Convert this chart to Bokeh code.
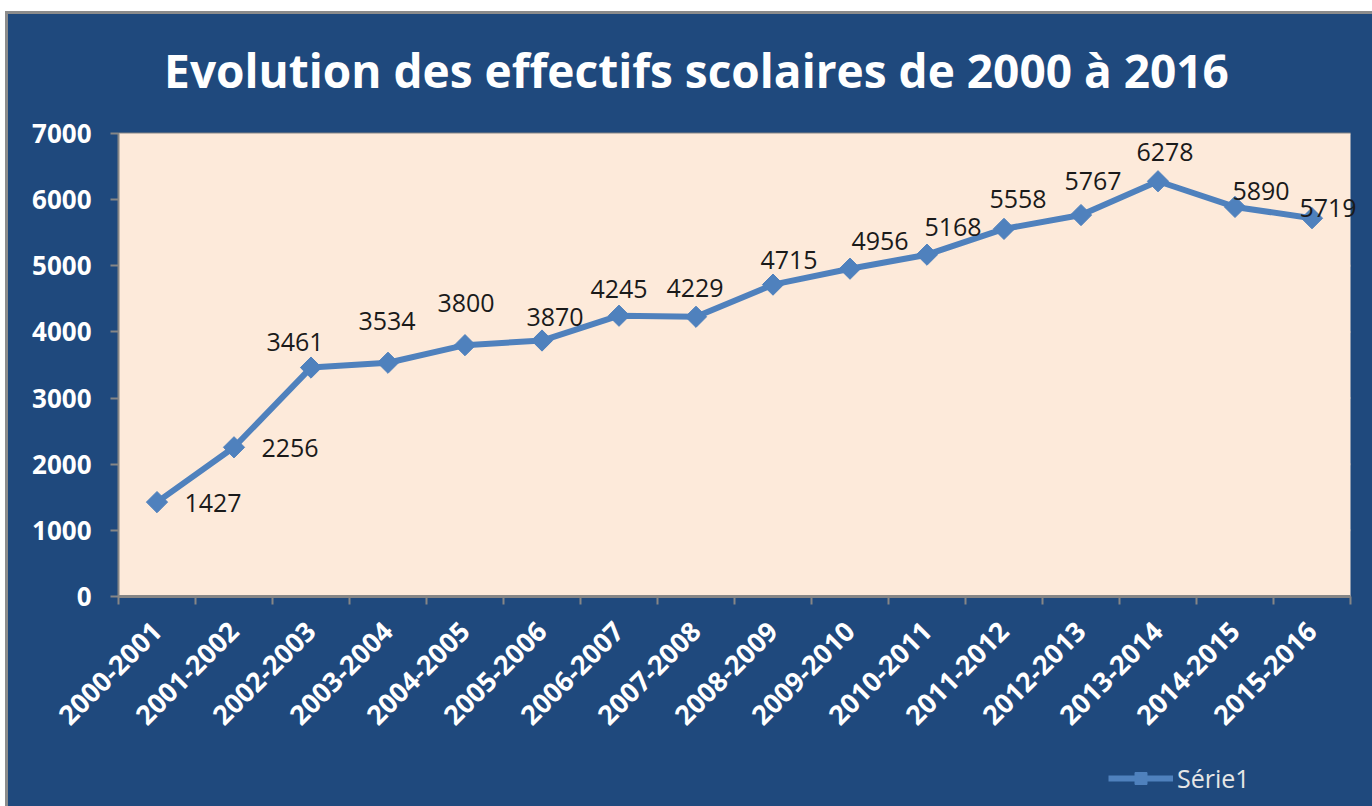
import math
import numpy as np
from bokeh.plotting import figure
from bokeh.models import (ColumnDataSource, FixedTicker, Legend, LegendItem,
                          BoxAnnotation, Label)
from bokeh.core.properties import value
from bokeh.embed import file_html
from bokeh.resources import INLINE

# ---- data ----
categories = ["2000-2001", "2001-2002", "2002-2003", "2003-2004", "2004-2005",
              "2005-2006", "2006-2007", "2007-2008", "2008-2009", "2009-2010",
              "2010-2011", "2011-2012", "2012-2013", "2013-2014", "2014-2015",
              "2015-2016"]
effectifs = [1427, 2256, 3461, 3534, 3800, 3870, 4245, 4229, 4715, 4956,
             5168, 5558, 5767, 6278, 5890, 5719]
y_ticks = [0, 1000, 2000, 3000, 4000, 5000, 6000, 7000]
series_name = "Série1"
title_text = "Evolution des effectifs scolaires de 2000 à 2016"

# ---- label placement (styling, screen pixels) ----
label_dx = [56, 56, -16, -1, 1, 13, 0, -1, 16, 30, 26, 14, 12, 7, 26, 16]
label_dy = [1, 1, -26, -42, -42, -24, -27, -29, -25, -28, -28, -30, -34, -29, -16, -10]

BLUE_BG = "#1F497D"
PLOT_BG = "#FDEADA"
LINE = "#4F81BD"
GRID = "#868686"
FONT = "Open Sans"

# ---- layout (pixels, figure coordinates from top-left) ----
W, H = 1364, 792
PLOT_L, PLOT_T = 110, 119            # beige plot area corner
PLOT_W, PLOT_H = 1232, 463           # beige plot area size
TITLE_CX, TITLE_BASE = 688, 55       # title centre / baseline
n = len(categories)
y_max = y_ticks[-1]
px_x = PLOT_W / n
px_y = PLOT_H / y_max
x_start = -PLOT_L / px_x
x_end = x_start + W / px_x
y_end = y_max + PLOT_T / px_y
y_start = y_end - H / px_y


def to_x(px):
    return x_start + px / px_x


def to_y(py):
    return y_end - py / px_y


xs = [i + 0.5 for i in range(n)]
src = ColumnDataSource(dict(x=xs, y=effectifs,
                            txt=[str(v) for v in effectifs],
                            dx=label_dx, dy=label_dy))
grid_src = ColumnDataSource(dict(y=y_ticks, x0=[0] * len(y_ticks),
                                 x1=[n] * len(y_ticks)))

p = figure(width=W, height=H, x_range=(x_start, x_end), y_range=(y_start, y_end),
           output_backend="svg", toolbar_location=None, title=None,
           min_border_left=0, min_border_right=0,
           min_border_top=0, min_border_bottom=0,
           styles={"margin-left": "8px", "margin-top": "14px",
                   "outline": "3px solid #8C8C8C",
                   "background-color": BLUE_BG})
p.border_fill_color = BLUE_BG
p.background_fill_color = BLUE_BG
p.outline_line_color = None

# beige plotting area
p.add_layout(BoxAnnotation(left=0, right=n, bottom=0, top=y_max,
                           fill_color=PLOT_BG, fill_alpha=1,
                           line_color=None, level="underlay"))

# title
p.add_layout(Label(x=to_x(TITLE_CX), y=to_y(TITLE_BASE), text=title_text,
                   text_align="center", text_baseline="alphabetic",
                   text_color="white", text_font=FONT, text_font_style="bold",
                   text_font_size="46px"))

# grid lines drawn from tick values
p.xgrid.grid_line_color = None
p.ygrid.grid_line_color = None
p.segment("x0", "y", "x1", "y", source=grid_src, line_color=GRID,
          line_width=2, level="underlay")

# y axis fixed at x = 0
p.yaxis.fixed_location = 0
p.yaxis.ticker = FixedTicker(ticks=y_ticks)
p.yaxis.bounds = (0, y_max)
p.yaxis.axis_line_color = GRID
p.yaxis.axis_line_width = 2
p.yaxis.major_tick_line_color = GRID
p.yaxis.major_tick_line_width = 2
p.yaxis.major_tick_out = 8
p.yaxis.major_tick_in = 0
p.yaxis.minor_tick_line_color = None
p.yaxis.major_label_text_color = "white"
p.yaxis.major_label_text_font = FONT
p.yaxis.major_label_text_font_style = "bold"
p.yaxis.major_label_text_font_size = "26px"
p.yaxis.major_label_standoff = 19

# x axis fixed at y = 0, labels at centres, ticks at boundaries
p.xaxis.fixed_location = 0
p.xaxis.bounds = (0, n)
p.xaxis.ticker = FixedTicker(ticks=xs, minor_ticks=list(range(n + 1)))
p.xaxis.major_label_overrides = {x: c for x, c in zip(xs, categories)}
p.xaxis.axis_line_color = GRID
p.xaxis.axis_line_width = 3
p.xaxis.major_tick_line_color = None
p.xaxis.major_tick_out = 0
p.xaxis.major_tick_in = 0
p.xaxis.minor_tick_line_color = GRID
p.xaxis.minor_tick_line_width = 2
p.xaxis.minor_tick_out = 8
p.xaxis.minor_tick_in = 0
p.xaxis.major_label_orientation = math.pi / 4
p.xaxis.major_label_text_color = "white"
p.xaxis.major_label_text_font = FONT
p.xaxis.major_label_text_font_style = "bold"
p.xaxis.major_label_text_font_size = "27px"
p.xaxis.major_label_standoff = 22

# series
line_r = p.line("x", "y", source=src, line_color=LINE, line_width=6)
pts_r = p.scatter("x", "y", source=src, marker="square", size=15,
                  angle=math.pi / 4, fill_color=LINE, line_color=LINE)

p.text("x", "y", text="txt", source=src, x_offset="dx", y_offset="dy",
       text_align="center", text_baseline="middle",
       text_font=value(FONT), text_font_size="25px", text_color="#1A1A1A")

legend = Legend(items=[LegendItem(label=series_name, renderers=[line_r, pts_r])],
                location=(PLOT_L + 990, 11), orientation="horizontal",
                padding=0, margin=0, spacing=0,
                glyph_width=65, glyph_height=30, label_standoff=4,
                background_fill_alpha=0, border_line_color=None,
                label_text_color="#E6E6E6", label_text_font=FONT,
                label_text_font_size="25px")
p.add_layout(legend, "center")

open("out.html", "w").write(file_html(p, INLINE))
